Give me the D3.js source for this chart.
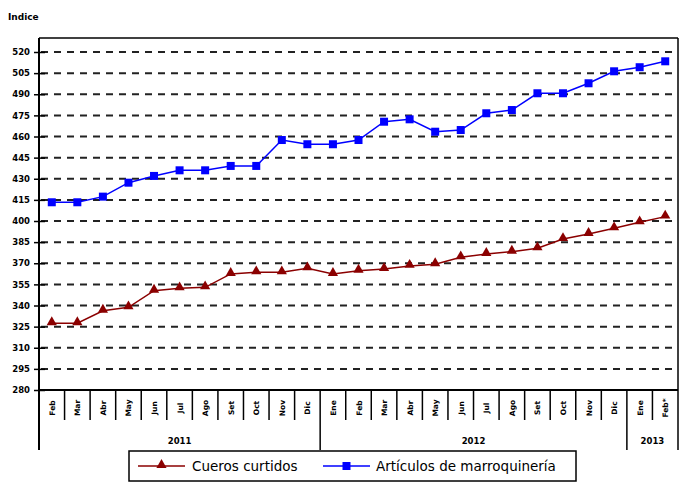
<!DOCTYPE html>
<html>
<head>
<meta charset="utf-8">
<script src="https://cdn.jsdelivr.net/npm/d3@7"></script>
<style>
  html, body { margin: 0; padding: 0; background: #fff; }
  svg { display: block; }
</style>
</head>
<body>
<svg id="chart" width="680" height="485"></svg>
<script>
// ---- data ----
const months = ["Feb","Mar","Abr","May","Jun","Jul","Ago","Set","Oct","Nov","Dic",
                "Ene","Feb","Mar","Abr","May","Jun","Jul","Ago","Set","Oct","Nov","Dic",
                "Ene","Feb*"];
const years = [
  {label: "2011", start: 0, end: 11},
  {label: "2012", start: 11, end: 23},
  {label: "2013", start: 23, end: 25}
];
const cuerosCurtidos = [327.4, 327.4, 336.3, 338.7, 350.5, 352.2, 352.9, 362.4, 363.6, 363.6, 366.4,
                        362.4, 364.7, 365.9, 368.1, 369.3, 374.2, 376.6, 378.2, 380.6, 387.2, 390.8, 394.8,
                        399.1, 403.1];
const articulosMarroquineria = [413.3, 413.3, 417.3, 427.2, 432.0, 436.0, 436.0, 439.1, 439.1, 457.5, 454.5,
                                454.5, 457.5, 470.5, 472.2, 463.4, 464.6, 476.5, 478.8, 490.7, 490.7, 497.8, 506.3,
                                509.2, 513.4];
const yTicks = [280, 295, 310, 325, 340, 355, 370, 385, 400, 415, 430, 445, 460, 475, 490, 505, 520];
const seriesNames = ["Cueros curtidos", "Artículos de marroquinería"];

// ---- layout ----
const svg = d3.select("#chart");
const pL = 39, pR = 678, pT = 38, pB = 390;
const x = d3.scaleBand().domain(d3.range(months.length)).range([pL, pR]).paddingInner(0).paddingOuter(0);
const y = d3.scaleLinear().domain([280, 520]).range([pB, 52]);
const cx = i => x(i) + x.bandwidth() / 2;

const red = "#8b0000", blue = "#0000ff";
const fontFam = "'DejaVu Sans', Verdana, sans-serif";

// "Indice"
svg.append("text").attr("x", 8).attr("y", 20)
  .attr("font-family", fontFam).attr("font-size", 9).attr("font-weight", "bold")
  .attr("fill", "#000").text("Indice");

// gridlines
svg.append("g").selectAll("line").data(yTicks.filter(d => d > 280)).join("line")
  .attr("x1", pL + 2).attr("x2", pR - 1)
  .attr("y1", d => y(d)).attr("y2", d => y(d))
  .attr("stroke", "#222").attr("stroke-width", 2).attr("stroke-dasharray", "7,6");

// frame top and right
svg.append("line").attr("x1", pL).attr("x2", pR).attr("y1", pT).attr("y2", pT)
  .attr("stroke", "#000").attr("stroke-width", 1.5);
svg.append("line").attr("x1", pR).attr("x2", pR).attr("y1", pT).attr("y2", 450)
  .attr("stroke", "#000").attr("stroke-width", 1.5);

// y axis
const yAxis = d3.axisLeft(y).tickValues(yTicks).tickSize(5).tickPadding(4).tickFormat(d3.format("d"));
const gy = svg.append("g").attr("transform", `translate(${pL},0)`).call(yAxis);
gy.select(".domain").remove();
gy.selectAll(".tick line").attr("x1", -5).attr("x2", 6).attr("stroke", "#000").attr("stroke-width", 1.5);
gy.selectAll(".tick text").attr("font-family", fontFam).attr("font-size", 8.5)
  .attr("font-weight", "bold").attr("fill", "#000").attr("x", -9);
svg.append("line").attr("x1", pL).attr("x2", pL).attr("y1", pT).attr("y2", 450)
  .attr("stroke", "#000").attr("stroke-width", 2);

// x axis
svg.append("line").attr("x1", pL).attr("x2", pR).attr("y1", pB).attr("y2", pB)
  .attr("stroke", "#000").attr("stroke-width", 2);
const yearBounds = new Set(years.map(d => d.start).concat([months.length]));
svg.append("g").selectAll("line").data(d3.range(1, months.length)).join("line")
  .attr("x1", i => x(i)).attr("x2", i => x(i))
  .attr("y1", pB).attr("y2", i => yearBounds.has(i) ? 450 : 420)
  .attr("stroke", "#000").attr("stroke-width", 1.5);
svg.append("g").selectAll("text").data(months).join("text")
  .attr("transform", (d, i) => `translate(${cx(i) + 3},408) rotate(-90)`)
  .attr("text-anchor", "middle")
  .attr("font-family", fontFam).attr("font-size", 7.5).attr("font-weight", "bold")
  .attr("fill", "#000").text(d => d);
svg.append("g").selectAll("text").data(years).join("text")
  .attr("x", d => (x(d.start) + (d.end < months.length ? x(d.end) : pR)) / 2)
  .attr("y", 444).attr("text-anchor", "middle")
  .attr("font-family", fontFam).attr("font-size", 8.5).attr("font-weight", "bold")
  .attr("fill", "#000").text(d => d.label);

// series
const line = d3.line().x((d, i) => cx(i)).y(d => y(d));
svg.append("path").datum(cuerosCurtidos).attr("d", line)
  .attr("fill", "none").attr("stroke", red).attr("stroke-width", 1.5);
svg.append("path").datum(articulosMarroquineria).attr("d", line)
  .attr("fill", "none").attr("stroke", blue).attr("stroke-width", 1.5);

const tri = d3.symbol().type(d3.symbolTriangle).size(45);
svg.append("g").selectAll("path").data(cuerosCurtidos).join("path")
  .attr("d", tri).attr("transform", (d, i) => `translate(${cx(i)},${y(d) - 1})`)
  .attr("fill", red);
svg.append("g").selectAll("rect").data(articulosMarroquineria).join("rect")
  .attr("x", (d, i) => cx(i) - 4).attr("y", d => y(d) - 4)
  .attr("width", 8).attr("height", 8).attr("fill", blue);

// legend
const lg = svg.append("g");
lg.append("rect").attr("x", 129).attr("y", 451).attr("width", 447).attr("height", 30)
  .attr("fill", "#fff").attr("stroke", "#000").attr("stroke-width", 1.5);
const legendItems = [
  {name: seriesNames[0], color: red, x0: 138, tx: 192, type: "tri"},
  {name: seriesNames[1], color: blue, x0: 323, tx: 376, type: "sq"}
];
legendItems.forEach(it => {
  lg.append("line").attr("x1", it.x0).attr("x2", it.x0 + 47).attr("y1", 466).attr("y2", 466)
    .attr("stroke", it.color).attr("stroke-width", 1.5);
  if (it.type === "tri") {
    lg.append("path").attr("d", tri).attr("transform", `translate(${it.x0 + 23.5},465)`).attr("fill", it.color);
  } else {
    lg.append("rect").attr("x", it.x0 + 19.5).attr("y", 462).attr("width", 8).attr("height", 8).attr("fill", it.color);
  }
  lg.append("text").attr("x", it.tx).attr("y", 471)
    .attr("font-family", fontFam).attr("font-size", 13.5).attr("fill", "#000").text(it.name);
});
</script>
</body>
</html>
